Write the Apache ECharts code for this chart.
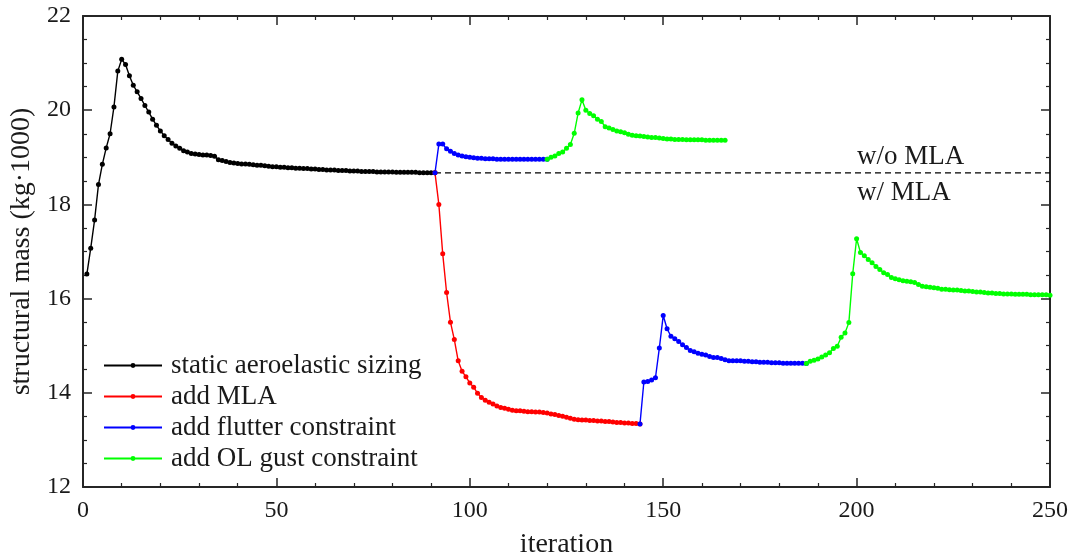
<!DOCTYPE html>
<html>
<head>
<meta charset="utf-8">
<script src="https://cdn.jsdelivr.net/npm/echarts@6/dist/echarts.min.js"></script>
<style>html,body{margin:0;padding:0;background:#fff}#c{width:1073px;height:559px}</style>
</head>
<body>
<div id="c"></div>
<script>
// ---- data (iteration numbers start at the given start value, step 1) ----
const staticStart = 1;
const staticMass = [16.52,17.07,17.67,18.42,18.85,19.20,19.50,20.07,20.83,21.08,
  20.97,20.73,20.53,20.39,20.25,20.10,19.96,19.81,19.68,19.56,
  19.46,19.38,19.30,19.24,19.19,19.14,19.11,19.08,19.07,19.06,
  19.05,19.05,19.04,19.02,18.95,18.93,18.91,18.89,18.88,18.87,
  18.86,18.86,18.85,18.84,18.83,18.83,18.82,18.81,18.80,18.80,
  18.79,18.79,18.78,18.78,18.77,18.77,18.76,18.76,18.75,18.75,
  18.74,18.74,18.73,18.73,18.73,18.72,18.72,18.72,18.71,18.71,
  18.71,18.70,18.70,18.70,18.70,18.69,18.69,18.69,18.69,18.69,
  18.68,18.68,18.68,18.68,18.68,18.68,18.67,18.67,18.67,18.67,18.67];

const mlaStart = 91;
const mlaMass = [18.67,18.00,16.95,16.13,15.50,15.13,14.68,14.46,14.34,14.21,
  14.12,13.99,13.90,13.84,13.80,13.76,13.72,13.69,13.67,13.65,
  13.63,13.62,13.62,13.61,13.60,13.60,13.59,13.59,13.58,13.57,
  13.55,13.54,13.52,13.50,13.48,13.46,13.44,13.43,13.42,13.42,
  13.41,13.41,13.40,13.40,13.39,13.39,13.38,13.37,13.37,13.36,
  13.36,13.35,13.35,13.34];

const flutterNoMlaStart = 91;
const flutterNoMlaMass = [18.67,19.28,19.28,19.18,19.13,19.08,19.05,19.03,19.01,19.00,
  18.99,18.98,18.98,18.97,18.97,18.97,18.96,18.96,18.96,18.96,
  18.96,18.96,18.96,18.96,18.96,18.96,18.96,18.96,18.96,18.96];

const gustNoMlaStart = 120;
const gustNoMlaMass = [18.96,19.00,19.03,19.08,19.11,19.19,19.27,19.51,19.94,20.22,
  20.00,19.93,19.88,19.81,19.76,19.65,19.62,19.59,19.56,19.54,
  19.52,19.49,19.47,19.46,19.45,19.44,19.43,19.42,19.42,19.41,
  19.40,19.39,19.39,19.38,19.38,19.38,19.37,19.37,19.37,19.37,
  19.37,19.36,19.36,19.36,19.36,19.36,19.36];

const flutterMlaStart = 144;
const flutterMlaMass = [13.34,14.23,14.24,14.27,14.32,14.95,15.64,
  15.36,15.20,15.15,15.09,15.02,14.96,14.90,14.87,14.84,14.82,
  14.80,14.77,14.75,14.75,14.73,14.70,14.68,14.68,14.68,14.68,
  14.67,14.67,14.66,14.66,14.65,14.65,14.65,14.64,14.64,14.64,
  14.63,14.63,14.63,14.63,14.63,14.63,14.62];

const gustMlaStart = 187;
const gustMlaMass = [14.62,14.67,14.69,14.72,14.76,14.80,14.85,14.94,14.99,15.18,
  15.27,15.49,16.53,17.27,
  16.98,16.91,16.83,16.76,16.68,16.62,16.55,16.51,16.45,16.42,
  16.40,16.38,16.37,16.36,16.34,16.30,16.26,16.25,16.24,16.23,
  16.22,16.20,16.20,16.19,16.18,16.18,16.17,16.16,16.16,16.15,
  16.14,16.14,16.13,16.12,16.12,16.11,16.11,16.10,16.10,16.10,
  16.09,16.09,16.09,16.09,16.08,16.08,16.08,16.08,16.08,16.07];

const refIter = [91, 250];
const refMass = 18.67;

const xTicks = [0, 50, 100, 150, 200, 250];
const yTicks = [12, 14, 16, 18, 20, 22];

const names = ['static aeroelastic sizing', 'add MLA', 'add flutter constraint', 'add OL gust constraint'];

function pairs(start, vals) { return vals.map((v, i) => [start + i, v]); }

const FONT = "'Liberation Serif', 'DejaVu Serif', serif";
const AX = '#262626';
const TXT = '#1a1a1a';

function mk(name, color, start, vals) {
  return {
    type: 'line', name: name, data: pairs(start, vals),
    symbol: 'circle', symbolSize: 5, showSymbol: true,
    lineStyle: { color: color, width: 1.4 },
    itemStyle: { color: color },
    emphasis: { disabled: true }, animation: false
  };
}

const xBase = {
  type: 'value', min: xTicks[0], max: xTicks[xTicks.length - 1], interval: 50,
  axisLine: { show: true, onZero: false, lineStyle: { color: AX, width: 2 } },
  axisTick: { show: true, inside: true, length: 9, lineStyle: { color: AX, width: 1.5 } },
  minorTick: { show: true, splitNumber: 5, length: 4, lineStyle: { color: AX, width: 1.2 } },
  splitLine: { show: false }
};
const yBase = {
  type: 'value', min: yTicks[0], max: yTicks[yTicks.length - 1], interval: 2,
  axisLine: { show: true, onZero: false, lineStyle: { color: AX, width: 2 } },
  axisTick: { show: true, inside: true, length: 9, lineStyle: { color: AX, width: 1.5 } },
  minorTick: { show: true, splitNumber: 4, length: 4, lineStyle: { color: AX, width: 1.2 } },
  splitLine: { show: false }
};

const chart = echarts.init(document.getElementById('c'), null, { renderer: 'canvas' });
chart.setOption({
  backgroundColor: '#fff',
  animation: false,
  textStyle: { fontFamily: FONT },
  grid: { left: 83, right: 23, top: 16, bottom: 72, containLabel: false, outerBoundsMode: 'none' },
  xAxis: [
    Object.assign({}, xBase, {
      position: 'bottom',
      axisLabel: { show: true, margin: 12, fontSize: 24, color: TXT, fontFamily: FONT },
      name: 'iteration', nameLocation: 'middle', nameGap: 44,
      nameTextStyle: { fontSize: 28, color: TXT, fontFamily: FONT }
    }),
    Object.assign({}, xBase, { position: 'top', axisLabel: { show: false } })
  ],
  yAxis: [
    Object.assign({}, yBase, {
      position: 'left',
      axisLabel: { show: true, margin: 12, fontSize: 24, color: TXT, fontFamily: FONT },
      name: 'structural mass (kg\u00b71000)', nameLocation: 'middle', nameGap: 35,
      nameTextStyle: { fontSize: 28, color: TXT, fontFamily: FONT }
    }),
    Object.assign({}, yBase, { position: 'right', axisLabel: { show: false } })
  ],
  legend: {
    data: names, orient: 'vertical', left: 103, top: 352, padding: 0,
    itemWidth: 58, itemHeight: 6, itemGap: 4,
    textStyle: { fontSize: 27, lineHeight: 27, color: TXT, fontFamily: FONT, padding: [0, 0, 0, 4] },
    selectedMode: false
  },
  series: [
    mk(names[0], '#000000', staticStart, staticMass),
    mk(names[1], '#ff0000', mlaStart, mlaMass),
    mk(names[2], '#0000ff', flutterNoMlaStart, flutterNoMlaMass),
    mk(names[2], '#0000ff', flutterMlaStart, flutterMlaMass),
    mk(names[3], '#00ff00', gustNoMlaStart, gustNoMlaMass),
    mk(names[3], '#00ff00', gustMlaStart, gustMlaMass),
    {
      type: 'line', name: 'ref', data: refIter.map(x => [x, refMass]),
      symbol: 'none', lineStyle: { color: '#000', width: 1.2, type: [6, 4] },
      z: 1, emphasis: { disabled: true }, animation: false
    }
  ],
  graphic: [
    { type: 'text', left: 857, top: 143, style: { text: 'w/o MLA', font: "27px 'Liberation Serif', serif", fill: TXT } },
    { type: 'text', left: 857, top: 179, style: { text: 'w/ MLA', font: "27px 'Liberation Serif', serif", fill: TXT } }
  ]
});
</script>
</body>
</html>
